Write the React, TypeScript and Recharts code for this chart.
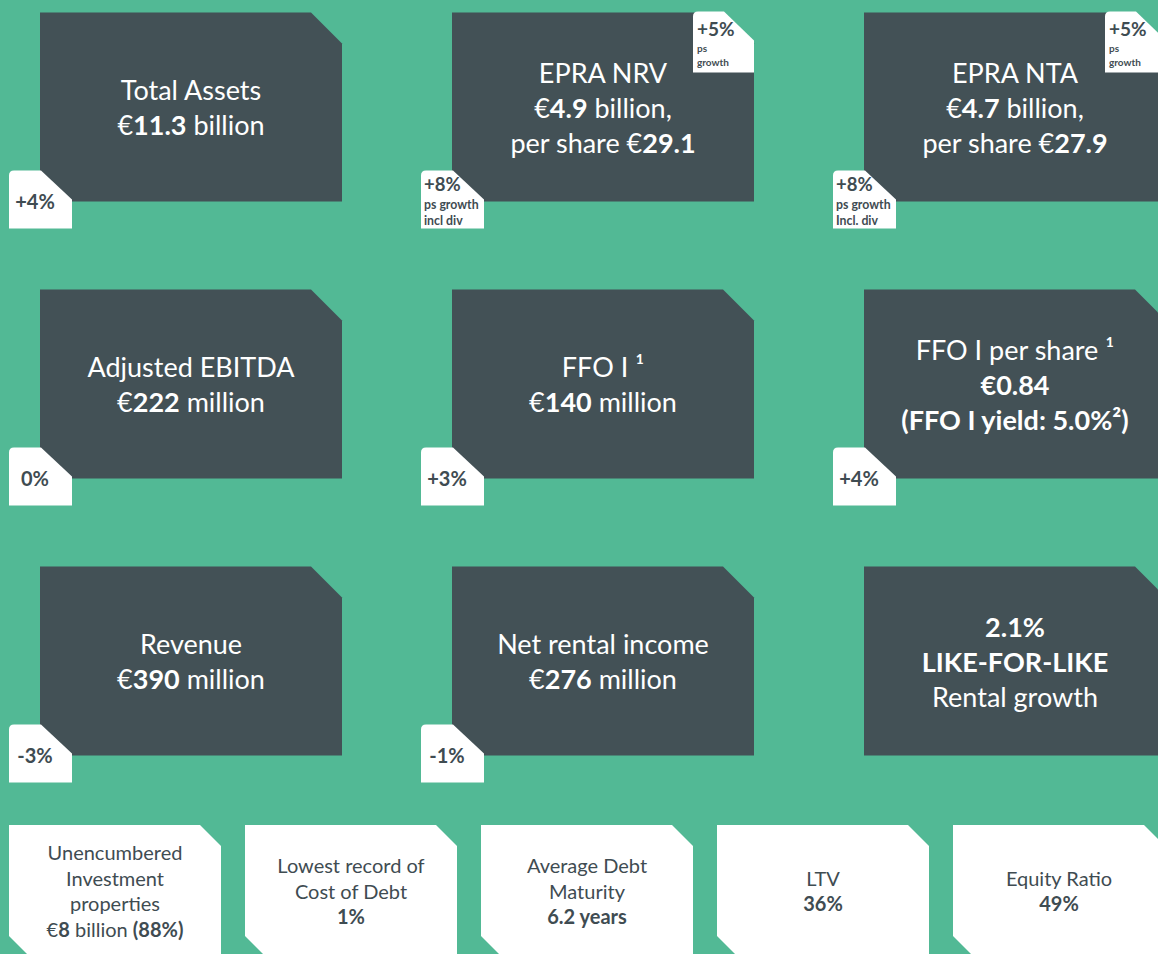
import React from 'react';
import { ScatterChart, Scatter, XAxis, YAxis } from 'recharts';

type Seg = { t: string; b?: boolean };
type Line = Seg[];

// ---------- data ----------
const tileCols = [0, 1, 2, 0, 1, 2, 0, 1, 2];
const tileRows = [0, 0, 0, 1, 1, 1, 2, 2, 2];
const tileLines: Line[][] = [
  [[{ t: 'Total Assets' }], [{ t: '€' }, { t: '11.3', b: true }, { t: ' billion' }]],
  [[{ t: 'EPRA NRV' }], [{ t: '€' }, { t: '4.9', b: true }, { t: ' billion,' }], [{ t: 'per share €' }, { t: '29.1', b: true }]],
  [[{ t: 'EPRA NTA' }], [{ t: '€' }, { t: '4.7', b: true }, { t: ' billion,' }], [{ t: 'per share €' }, { t: '27.9', b: true }]],
  [[{ t: 'Adjusted EBITDA' }], [{ t: '€' }, { t: '222', b: true }, { t: ' million' }]],
  [[{ t: 'FFO I ¹' }], [{ t: '€' }, { t: '140', b: true }, { t: ' million' }]],
  [[{ t: 'FFO I per share ¹' }], [{ t: '€0.84', b: true }], [{ t: '(FFO I yield: 5.0%²)', b: true }]],
  [[{ t: 'Revenue' }], [{ t: '€' }, { t: '390', b: true }, { t: ' million' }]],
  [[{ t: 'Net rental income' }], [{ t: '€' }, { t: '276', b: true }, { t: ' million' }]],
  [[{ t: '2.1%', b: true }], [{ t: 'LIKE-FOR-LIKE', b: true }], [{ t: 'Rental growth' }]],
];
const changeBadges: (string[] | null)[] = [
  ['+4%'],
  ['+8%', 'ps growth', 'incl div'],
  ['+8%', 'ps growth', 'Incl. div'],
  ['0%'],
  ['+3%'],
  ['+4%'],
  ['-3%'],
  ['-1%'],
  null,
];
const perShareBadges: (string[] | null)[] = [
  null,
  ['+5%', 'ps', 'growth'],
  ['+5%', 'ps', 'growth'],
  null, null, null, null, null, null,
];

const stripCols = [0, 1, 2, 3, 4];
const stripRow = 3;
const stripLines: Line[][] = [
  [[{ t: 'Unencumbered' }], [{ t: 'Investment' }], [{ t: 'properties' }], [{ t: '€' }, { t: '8', b: true }, { t: ' billion ' }, { t: '(88%)', b: true }]],
  [[{ t: 'Lowest record of' }], [{ t: 'Cost of Debt' }], [{ t: '1%', b: true }]],
  [[{ t: 'Average Debt' }], [{ t: 'Maturity' }], [{ t: '6.2 years', b: true }]],
  [[{ t: 'LTV' }], [{ t: '36%', b: true }]],
  [[{ t: 'Equity Ratio' }], [{ t: '49%', b: true }]],
];

// ---------- styles ----------
const GREEN = '#52B995';
const DARK = '#435156';
const INK = '#3F4C52';
const FONT = 'Lato, "Open Sans", sans-serif';

const mainData = tileLines.map((lines, i) => ({
  col: tileCols[i],
  row: tileRows[i],
  lines,
  change: changeBadges[i],
  perShare: perShareBadges[i],
}));
const stripData = stripLines.map((lines, i) => ({ col: stripCols[i], row: stripRow, lines }));

function renderLine(line: Line, x: number, y: number, size: number, fill: string, key: number) {
  return (
    <text key={key} x={x} y={y} textAnchor="middle" fontFamily={FONT} fontSize={size} fill={fill} style={{ whiteSpace: 'pre' }}>
      {line.map((s, j) => (
        <tspan key={j} fontWeight={s.b ? 700 : 400}>{s.t}</tspan>
      ))}
    </text>
  );
}

function badgePath(l: number, t: number, w: number, h: number, cx: number, cy: number, r: number) {
  return `M${l},${t + r} Q${l},${t} ${l + r},${t} L${l + w - cx},${t} L${l + w},${t + cy} L${l + w},${t + h} L${l},${t + h} Z`;
}

const MainTile = (props: any) => {
  const { cx, cy, payload } = props;
  const W = 302, H = 189, C = 31;
  const l = cx - W / 2, t = cy - H / 2, r = l + W, b = t + H;
  const n = payload.lines.length;
  const els: React.ReactNode[] = [];
  els.push(<path key="tile" d={`M${l},${t} L${r - C},${t} L${r},${t + C} L${r},${b} L${l},${b} Z`} fill={DARK} />);
  payload.lines.forEach((ln: Line, i: number) => {
    els.push(renderLine(ln, cx, cy + 10.5 + (i - (n - 1) / 2) * 35, 27, '#FFFFFF', 100 + i));
  });
  if (payload.change) {
    const bl = l - 31, bt = b - 31;
    els.push(<path key="cb" d={badgePath(bl, bt, 63, 58, 31, 29, 5)} fill="#FFFFFF" />);
    const c: string[] = payload.change;
    if (c.length === 1) {
      els.push(
        <text key="ct" x={bl + 26} y={bt + 38} textAnchor="middle" fontFamily={FONT} fontSize={20} fontWeight={700} fill={INK}>{c[0]}</text>
      );
    } else {
      els.push(
        <text key="ct0" x={bl + 3} y={bt + 20} fontFamily={FONT} fontSize={18.5} fontWeight={700} fill={INK}>{c[0]}</text>,
        <text key="ct1" x={bl + 3} y={bt + 38} fontFamily={FONT} fontSize={12.3} fontWeight={700} fill={INK}>{c[1]}</text>,
        <text key="ct2" x={bl + 3} y={bt + 54} fontFamily={FONT} fontSize={12.3} fontWeight={700} fill={INK}>{c[2]}</text>
      );
    }
  }
  if (payload.perShare) {
    const p: string[] = payload.perShare;
    const bl = r - 61, bt = t - 1;
    els.push(<path key="pb" d={badgePath(bl, bt, 61, 61, 30, 29, 5)} fill="#FFFFFF" />);
    els.push(
      <text key="pt0" x={bl + 4} y={bt + 24} fontFamily={FONT} fontSize={19} fontWeight={700} fill={INK}>{p[0]}</text>,
      <text key="pt1" x={bl + 4} y={bt + 40} fontFamily={FONT} fontSize={10} fontWeight={700} fill={INK}>{p[1]}</text>,
      <text key="pt2" x={bl + 4} y={bt + 54} fontFamily={FONT} fontSize={10} fontWeight={700} fill={INK}>{p[2]}</text>
    );
  }
  return <g>{els}</g>;
};

const StripTile = (props: any) => {
  const { cx, cy, payload } = props;
  const W = 212, H = 142, CT = 21, CB = 31;
  const l = cx - W / 2, t = cy - 113, r = l + W, b = t + H;
  const n = payload.lines.length;
  return (
    <g>
      <path d={`M${l},${t} L${r - CT},${t} L${r},${t + CT} L${r},${b} L${l + CB},${b} L${l},${b - CB} Z`} fill="#FFFFFF" />
      {payload.lines.map((ln: Line, i: number) => renderLine(ln, cx, cy - 39.5 + (i - (n - 1) / 2) * 25.7, 20, INK, i))}
    </g>
  );
};

export default function App() {
  return (
    <div style={{ width: 1158, height: 954, background: GREEN, overflow: 'hidden' }}>
      <style>{`body{margin:0;}`}</style>
      <ScatterChart width={1158} height={954} margin={{ top: 0, right: 0, bottom: 0, left: 0 }}>
        <XAxis xAxisId="main" type="number" dataKey="col" domain={[0, 2]} padding={{ left: 191, right: 143 }} hide />
        <XAxis xAxisId="strip" type="number" dataKey="col" domain={[0, 4]} padding={{ left: 115, right: 99 }} hide />
        <YAxis yAxisId="rows" type="number" dataKey="row" domain={[0, 3]} reversed padding={{ top: 107, bottom: 16 }} hide />
        <Scatter data={mainData} xAxisId="main" yAxisId="rows" shape={(p: any) => <MainTile {...p} />} isAnimationActive={false} />
        <Scatter data={stripData} xAxisId="strip" yAxisId="rows" shape={(p: any) => <StripTile {...p} />} isAnimationActive={false} />
      </ScatterChart>
    </div>
  );
}
